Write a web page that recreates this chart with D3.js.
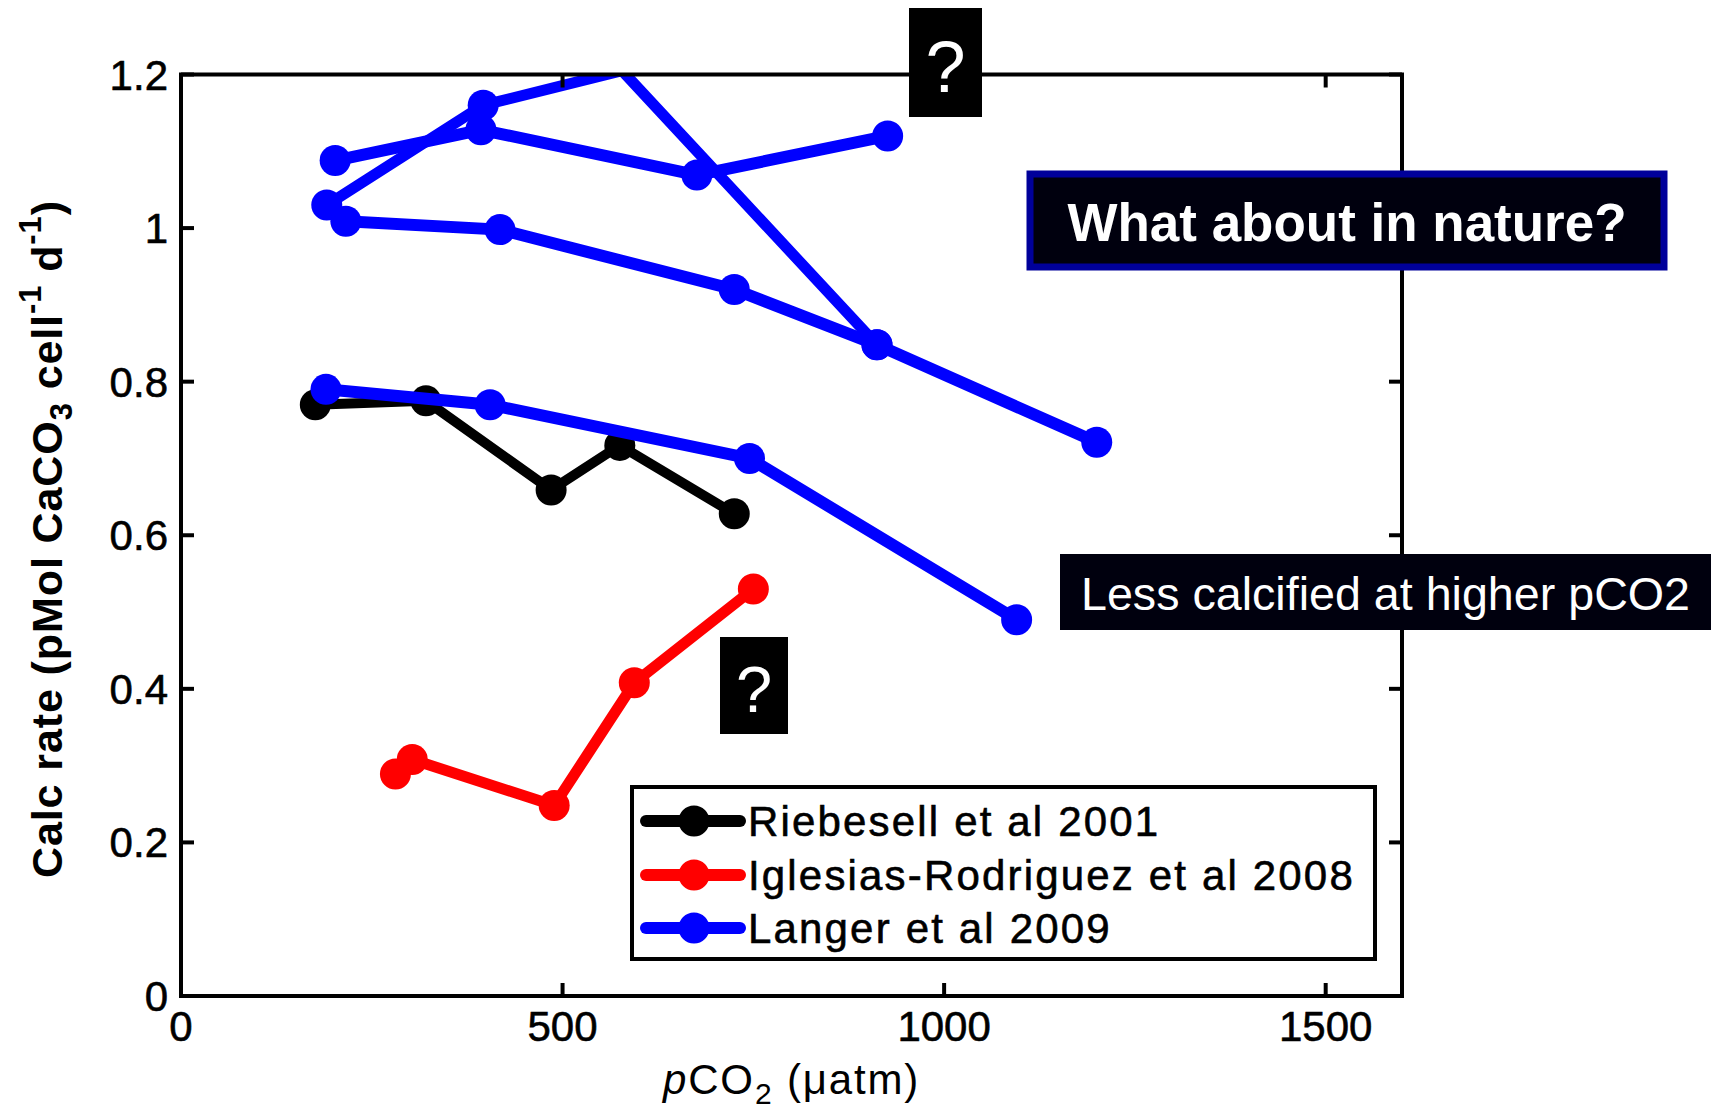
<!DOCTYPE html>
<html>
<head>
<meta charset="utf-8">
<script src="https://d3js.org/d3.v7.min.js"></script>
<style>
  html, body { margin: 0; padding: 0; background: #fff; }
  svg { display: block; font-family: "Liberation Sans", Arial, sans-serif; }
</style>
</head>
<body>
<svg id="chart" width="1721" height="1113"></svg>
<script>
// ---- data ----
const riebesellX = [176, 321, 485, 575, 725];
const riebesellY = [0.770, 0.775, 0.659, 0.717, 0.628];

const iglesiasX = [281, 303, 489, 594, 750];
const iglesiasY = [0.289, 0.308, 0.248, 0.408, 0.530];

// Langer et al 2009, four strains
const langerAX = [202, 393, 676, 926];
const langerAY = [1.088, 1.128, 1.069, 1.120];
const langerBX = [191, 396, 578, 912];
const langerBY = [1.030, 1.160, 1.205, 0.848];
const langerCX = [216, 418, 725, 912, 1200];
const langerCY = [1.009, 0.998, 0.920, 0.848, 0.721];
const langerDX = [190, 405, 745, 1095];
const langerDY = [0.790, 0.770, 0.700, 0.490];

const legendLabels = ["Riebesell et al 2001", "Iglesias-Rodriguez et al 2008", "Langer et al 2009"];
const legendColors = ["#000000", "#ff0000", "#0000ff"];

const xTicks = [0, 500, 1000, 1500];
const yTicks = [0, 0.2, 0.4, 0.6, 0.8, 1, 1.2];

// ---- layout ----
const svg = d3.select("#chart");
const plot = { left: 181, right: 1402, top: 74.5, bottom: 996 };
const x = d3.scaleLinear().domain([0, 1600]).range([plot.left, plot.right]);
const y = d3.scaleLinear().domain([0, 1.2]).range([plot.bottom, plot.top]);

svg.append("defs").append("clipPath").attr("id", "plotclip")
  .append("rect")
  .attr("x", plot.left).attr("y", plot.top)
  .attr("width", plot.right - plot.left).attr("height", plot.bottom - plot.top);

// series list built from the arrays above
const series = [
  { color: "#000000", xs: riebesellX, ys: riebesellY, w: 10 },
  { color: "#ff0000", xs: iglesiasX, ys: iglesiasY, w: 11 },
  { color: "#0000ff", xs: langerAX, ys: langerAY, w: 12 },
  { color: "#0000ff", xs: langerBX, ys: langerBY, w: 11 },
  { color: "#0000ff", xs: langerCX, ys: langerCY, w: 12 },
  { color: "#0000ff", xs: langerDX, ys: langerDY, w: 12 }
];

const line = d3.line().x(d => x(d[0])).y(d => y(d[1]));
const dataG = svg.append("g").attr("clip-path", "url(#plotclip)");

series.forEach(s => {
  const pts = s.xs.map((v, i) => [v, s.ys[i]]);
  const g = dataG.append("g");
  g.append("path")
    .attr("d", line(pts))
    .attr("fill", "none")
    .attr("stroke", s.color)
    .attr("stroke-width", s.w)
    .attr("stroke-linejoin", "miter");
  // markers whose centre lies outside the axes are not drawn (MATLAB style)
  g.selectAll("circle")
    .data(pts.filter(p => p[1] <= 1.2))
    .join("circle")
    .attr("cx", d => x(d[0]))
    .attr("cy", d => y(d[1]))
    .attr("r", 15.5)
    .attr("fill", s.color);
});

// ---- axes box with inward ticks ----
const axG = svg.append("g");
const tickLen = 13;
const axisStroke = 4;

xTicks.forEach(t => {
  axG.append("line").attr("x1", x(t)).attr("x2", x(t))
    .attr("y1", plot.bottom).attr("y2", plot.bottom - tickLen)
    .attr("stroke", "#000").attr("stroke-width", axisStroke);
  axG.append("line").attr("x1", x(t)).attr("x2", x(t))
    .attr("y1", plot.top).attr("y2", plot.top + tickLen)
    .attr("stroke", "#000").attr("stroke-width", axisStroke);
  axG.append("text")
    .attr("x", x(t)).attr("y", 1041)
    .attr("text-anchor", "middle")
    .attr("font-size", 42)
    .attr("fill", "#000")
    .attr("stroke", "#000").attr("stroke-width", 0.6)
    .text(d3.format("d")(t));
});

yTicks.forEach(t => {
  axG.append("line").attr("x1", plot.left).attr("x2", plot.left + tickLen)
    .attr("y1", y(t)).attr("y2", y(t))
    .attr("stroke", "#000").attr("stroke-width", axisStroke);
  axG.append("line").attr("x1", plot.right).attr("x2", plot.right - tickLen)
    .attr("y1", y(t)).attr("y2", y(t))
    .attr("stroke", "#000").attr("stroke-width", axisStroke);
  axG.append("text")
    .attr("x", 168).attr("y", y(t) + 15)
    .attr("text-anchor", "end")
    .attr("font-size", 42)
    .attr("fill", "#000")
    .attr("stroke", "#000").attr("stroke-width", 0.6)
    .text(t === 0 || t === 1 ? String(t) : d3.format(".1f")(t));
});

axG.append("rect")
  .attr("x", plot.left).attr("y", plot.top)
  .attr("width", plot.right - plot.left).attr("height", plot.bottom - plot.top)
  .attr("fill", "none").attr("stroke", "#000").attr("stroke-width", axisStroke);

// ---- axis labels ----
const xLab = svg.append("text")
  .attr("x", 663).attr("y", 1094)
  .attr("font-size", 42)
  .attr("fill", "#000");
xLab.append("tspan").attr("font-style", "italic").text("p");
xLab.append("tspan").text("CO");
xLab.append("tspan").attr("font-size", 30).attr("dy", 10).text("2");
xLab.append("tspan").attr("dy", -10).text(" (\u03bcatm)");
{
  const have = xLab.node().getComputedTextLength();
  const n = xLab.text().length;
  xLab.attr("letter-spacing", ((257 - have) / n).toFixed(2));
}

const yLab = svg.append("text")
  .attr("transform", "translate(62,878) rotate(-90)")
  .attr("font-size", 43)
  .attr("font-weight", "bold")
  .attr("fill", "#000");
yLab.append("tspan").text("Calc rate (pMol CaCO");
yLab.append("tspan").attr("font-size", 31).attr("dy", 10).text("3");
yLab.append("tspan").attr("dy", -10).text(" cell");
yLab.append("tspan").attr("font-size", 31).attr("dy", -21).text("-1");
yLab.append("tspan").attr("dy", 21).text(" d");
yLab.append("tspan").attr("font-size", 31).attr("dy", -21).text("-1");
yLab.append("tspan").attr("dy", 21).text(")");
{
  const want = 678;
  const have = yLab.node().getComputedTextLength();
  const n = yLab.text().length;
  yLab.attr("letter-spacing", ((want - have) / n).toFixed(2));
}

// ---- legend ----
const leg = svg.append("g");
leg.append("rect")
  .attr("x", 632).attr("y", 787).attr("width", 743).attr("height", 172)
  .attr("fill", "#fff").attr("stroke", "#000").attr("stroke-width", 4);
const rowY = [821, 875, 928];
const legTexts = [];
legendLabels.forEach((lab, i) => {
  leg.append("line")
    .attr("x1", 646).attr("x2", 740)
    .attr("y1", rowY[i]).attr("y2", rowY[i])
    .attr("stroke", legendColors[i]).attr("stroke-width", 12)
    .attr("stroke-linecap", "round");
  leg.append("circle")
    .attr("cx", 694).attr("cy", rowY[i]).attr("r", 15.5)
    .attr("fill", legendColors[i]);
  legTexts.push(leg.append("text")
    .attr("x", 748).attr("y", rowY[i] + 15)
    .attr("font-size", 42)
    .attr("fill", "#000")
    .attr("stroke", "#000").attr("stroke-width", 0.6)
    .text(lab));
});
{
  const ref = legTexts[1];
  const have = ref.node().getComputedTextLength();
  const ls = (607 - have) / legendLabels[1].length;
  legTexts.forEach(t => t.attr("letter-spacing", ls.toFixed(2)));
}

// ---- annotation boxes ----
function box(x0, y0, w, h, opts) {
  const g = svg.append("g");
  g.append("rect")
    .attr("x", x0).attr("y", y0).attr("width", w).attr("height", h)
    .attr("fill", opts.fill || "#000")
    .attr("stroke", opts.stroke || "none")
    .attr("stroke-width", opts.strokeWidth || 0);
  const t = g.append("text")
    .attr("x", x0 + w / 2).attr("y", opts.baseline)
    .attr("text-anchor", "middle")
    .attr("font-size", opts.size)
    .attr("font-weight", opts.weight || "normal")
    .attr("fill", "#fff")
    .text(opts.text);
  if (opts.length) t.attr("textLength", opts.length).attr("lengthAdjust", "spacingAndGlyphs");
  return g;
}

box(909, 8, 73, 109, { text: "?", size: 72, baseline: 92 });
box(720, 637, 68, 97, { text: "?", size: 65, baseline: 712 });
box(1030, 174, 634, 93, {
  text: "What about in nature?", size: 54, weight: "bold", baseline: 241,
  fill: "#00000e", stroke: "#00009a", strokeWidth: 7, length: 559
});
box(1060, 554, 651, 76, { text: "Less calcified at higher pCO2", size: 47, baseline: 610, fill: "#00000e", length: 609 });
</script>
</body>
</html>
